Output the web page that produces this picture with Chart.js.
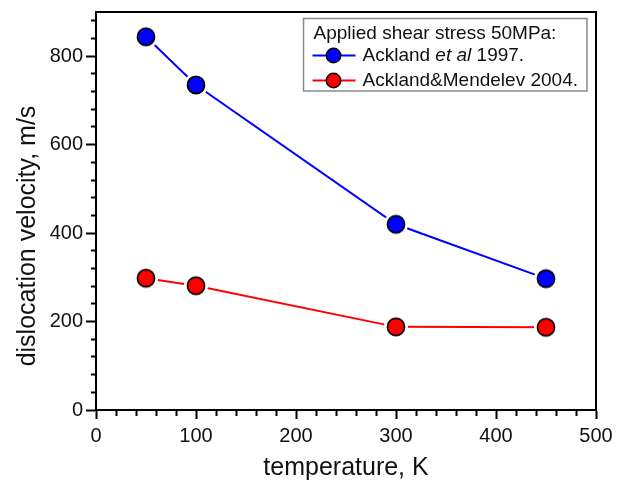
<!DOCTYPE html>
<html>
<head>
<meta charset="utf-8">
<script src="https://cdn.jsdelivr.net/npm/chart.js@4/dist/chart.umd.min.js"></script>
<style>
html,body{margin:0;padding:0;background:#fff;}
#c{display:block;}
</style>
</head>
<body>
<canvas id="c" width="627" height="485"></canvas>
<script>
// ---- data ----
const temperature = [50, 100, 300, 450];
const ackland1997 = [844, 735, 420, 297];
const acklandMendelev2004 = [298, 281, 188, 187];
const xTickLabels = [0, 100, 200, 300, 400, 500];
const yTickLabels = [0, 200, 400, 600, 800];
const legendTitle = 'Applied shear stress 50MPa:';
const seriesNames = ['Ackland et al 1997.', 'Ackland&Mendelev 2004.'];
const xTitle = 'temperature, K';
const yTitle = 'dislocation velocity, m/s';

const FONT = '"Liberation Sans", Arial, sans-serif';

function makeMarker(fill, r, ring) {
  const s = Math.ceil((ring + 1) * 2);
  const cv = document.createElement('canvas');
  cv.width = s; cv.height = s;
  const g = cv.getContext('2d');
  const c = s / 2;
  g.beginPath(); g.arc(c, c, ring, 0, Math.PI * 2); g.fillStyle = '#fff'; g.fill();
  g.beginPath(); g.arc(c, c, r, 0, Math.PI * 2); g.fillStyle = fill; g.fill();
  g.lineWidth = 1.6; g.strokeStyle = '#000'; g.stroke();
  return cv;
}
const blueMarker = makeMarker('#0000ff', 8.6, 12);
const redMarker = makeMarker('#ff0000', 8.6, 12);

const frame = {
  id: 'frame',
  afterDraw(chart) {
    const {ctx, chartArea: a} = chart;
    ctx.save();
    ctx.strokeStyle = '#000';
    ctx.lineWidth = 2;
    ctx.beginPath();
    ctx.moveTo(a.left, a.top); ctx.lineTo(a.right, a.top); ctx.lineTo(a.right, a.bottom);
    ctx.stroke();
    // y axis title (rotated), placed as in the original figure
    ctx.fillStyle = '#111';
    ctx.font = '25px ' + FONT;
    ctx.textAlign = 'center';
    ctx.textBaseline = 'middle';
    ctx.translate(a.left - 68, (a.top + a.bottom) / 2 + 25);
    ctx.rotate(-Math.PI / 2);
    ctx.fillText(yTitle, 0, 0);
    ctx.restore();
  }
};

const legendBox = {
  id: 'legendBox',
  afterDraw(chart) {
    const {ctx, chartArea: a} = chart;
    const x0 = a.left + 207.5, y0 = a.top + 6.5, w = 283.5, h = 72.5;
    ctx.save();
    ctx.fillStyle = '#fff';
    ctx.fillRect(x0, y0, w, h);
    ctx.strokeStyle = '#8a8a8a';
    ctx.lineWidth = 1.5;
    ctx.strokeRect(x0, y0, w, h);
    ctx.fillStyle = '#111';
    ctx.textBaseline = 'middle';
    ctx.font = '19px ' + FONT;
    ctx.fillText(legendTitle, x0 + 10, y0 + 15);
    const rows = [
      {color: '#0000ff', y: y0 + 37},
      {color: '#ff0000', y: y0 + 62}
    ];
    rows.forEach((r, i) => {
      ctx.strokeStyle = r.color; ctx.lineWidth = 2;
      ctx.beginPath(); ctx.moveTo(x0 + 9, r.y); ctx.lineTo(x0 + 52, r.y); ctx.stroke();
      ctx.beginPath(); ctx.arc(x0 + 30, r.y, 7.2, 0, Math.PI * 2);
      ctx.fillStyle = r.color; ctx.fill();
      ctx.strokeStyle = '#000'; ctx.lineWidth = 1.5; ctx.stroke();
      ctx.fillStyle = '#111';
      let tx = x0 + 59;
      if (i === 0) {
        const parts = seriesNames[0].split(' '); // Ackland, et, al, 1997.
        ctx.font = '19px ' + FONT;
        ctx.fillText(parts[0] + ' ', tx, r.y); tx += ctx.measureText(parts[0] + ' ').width;
        ctx.font = 'italic 19px ' + FONT;
        ctx.fillText(parts[1] + ' ' + parts[2], tx, r.y); tx += ctx.measureText(parts[1] + ' ' + parts[2]).width;
        ctx.font = '19px ' + FONT;
        ctx.fillText(' ' + parts[3], tx, r.y);
      } else {
        ctx.font = '19px ' + FONT;
        ctx.fillText(seriesNames[1], tx, r.y);
      }
    });
    ctx.restore();
  }
};

new Chart(document.getElementById('c'), {
  type: 'line',
  data: {
    datasets: [
      {
        label: seriesNames[0],
        data: temperature.map((t, i) => ({x: t, y: ackland1997[i]})),
        borderColor: '#0000ff', borderWidth: 2,
        pointStyle: blueMarker, pointRadius: 10,
        tension: 0
      },
      {
        label: seriesNames[1],
        data: temperature.map((t, i) => ({x: t, y: acklandMendelev2004[i]})),
        borderColor: '#ff0000', borderWidth: 2,
        pointStyle: redMarker, pointRadius: 10,
        tension: 0
      }
    ]
  },
  options: {
    responsive: false,
    animation: false,
    devicePixelRatio: 1,
    layout: {padding: {left: 0, right: 31, top: 8, bottom: 0}},
    plugins: {legend: {display: false}, tooltip: {enabled: false}},
    scales: {
      x: {
        type: 'linear', min: 0, max: 500,
        afterFit(s) { s.height = 75; s.paddingLeft = 0; s.paddingRight = 0; },
        border: {color: '#000', width: 2},
        grid: {
          drawOnChartArea: false, drawTicks: true, tickLength: 9,
          tickColor: '#000', tickWidth: 2,
          tickBorderDash: (ctx) => (ctx.tick && ctx.tick.value % 100 === 0) ? [] : [5, 100]
        },
        ticks: {
          stepSize: 20, autoSkip: false, maxRotation: 0, includeBounds: false,
          padding: 5, color: '#111',
          font: {family: FONT, size: 20},
          callback: (v) => xTickLabels.includes(v) ? String(v) : ''
        },
        title: {display: true, text: xTitle, color: '#111',
          font: {family: FONT, size: 25}, padding: {top: 4, bottom: 2}}
      },
      y: {
        type: 'linear', min: 0, max: 900,
        afterFit(s) { s.width = 96; s.paddingTop = 0; s.paddingBottom = 0; },
        border: {color: '#000', width: 2},
        grid: {
          drawOnChartArea: false, drawTicks: true, tickLength: 10,
          tickColor: '#000', tickWidth: 2,
          tickBorderDash: (ctx) => (ctx.tick && ctx.tick.value % 200 === 0) ? [] : [0, 5, 5, 100]
        },
        ticks: {
          stepSize: 40, autoSkip: false, includeBounds: false,
          padding: 3, color: '#111',
          font: {family: FONT, size: 20},
          callback: (v) => yTickLabels.includes(v) ? String(v) : ''
        },
        title: {display: false}
      }
    }
  },
  plugins: [frame, legendBox]
});
</script>
</body>
</html>
